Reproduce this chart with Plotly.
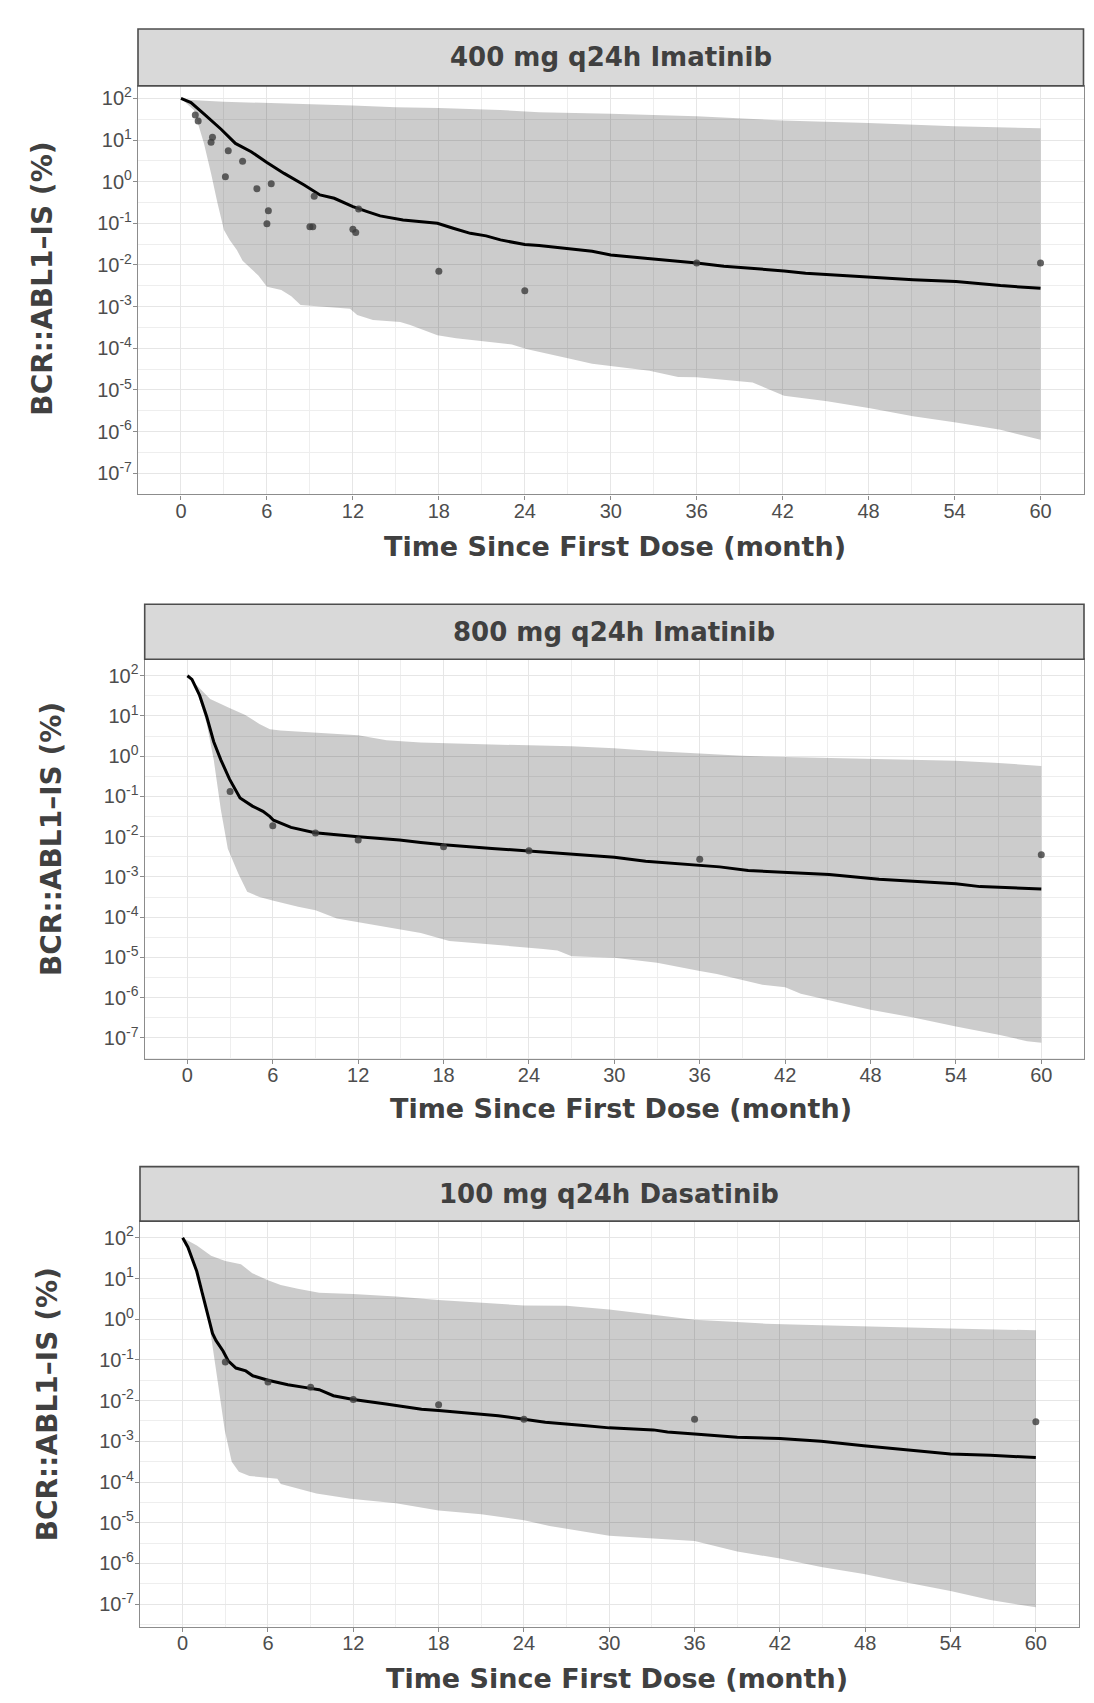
import plotly.graph_objects as go

# The page body has an 8px default margin, so the figure is sized to fit the
# 1094x1703 window inside it and all pixel positions below are screen pixels.
SCREEN_W, SCREEN_H = 1094, 1703
OFF = 8
FIG_W, FIG_H = SCREEN_W - 2 * OFF, SCREEN_H - 2 * OFF

# ---------------- shared axis content ----------------
X_TICKS = [0, 6, 12, 18, 24, 30, 36, 42, 48, 54, 60]
X_TICK_LABELS = ["0", "6", "12", "18", "24", "30", "36", "42", "48", "54", "60"]
Y_TICKS = [1e-7, 1e-6, 1e-5, 1e-4, 1e-3, 1e-2, 1e-1, 1e0, 1e1, 1e2]
Y_TICK_LABELS = ["10<sup>-7</sup>", "10<sup>-6</sup>", "10<sup>-5</sup>", "10<sup>-4</sup>",
                 "10<sup>-3</sup>", "10<sup>-2</sup>", "10<sup>-1</sup>", "10<sup>0</sup>",
                 "10<sup>1</sup>", "10<sup>2</sup>"]
Y_MINOR = [3.16e-8, 3.16e-7, 3.16e-6, 3.16e-5, 3.16e-4, 3.16e-3, 3.16e-2, 3.16e-1, 3.16, 31.6, 316]
X_TITLE = "Time Since First Dose (month)"
Y_TITLE = "BCR::ABL1\u2013IS (%)"

# ---------------- panel 1: 400 mg q24h Imatinib ----------------
p1_title = "400 mg q24h Imatinib"
p1_obs_t = [1.0, 1.2, 2.2, 2.1, 3.3, 4.3, 3.1, 5.3, 6.3, 6.1, 6.0, 9.3, 9.0, 9.2, 12.0, 12.2, 12.4, 18.0, 24.0, 36.0, 60.0]
p1_obs_v = [39.8, 28.8, 11.7, 8.9, 5.5, 3.1, 1.32, 0.68, 0.89, 0.20, 0.098, 0.45, 0.083, 0.083, 0.072, 0.060, 0.22, 0.0071, 0.0024, 0.0112, 0.0112]
p1_med_t = [0, 0.7, 1.6, 2.8, 3.8, 4.9, 6.0, 7.2, 8.6, 9.7, 10.7, 12.0, 13.0, 13.9, 15.5, 17.2, 17.9, 19.0, 20.2, 21.3,
            22.3, 24.0, 25.0, 28.7, 30.0, 32.4, 36.0, 37.9, 39.9, 42.1, 43.6, 46.1, 48.1, 51.1, 54.1, 57.2, 60.0]
p1_med_v = [100, 79.4, 42.7, 18.2, 8.3, 5.25, 2.88, 1.58, 0.83, 0.48, 0.40, 0.251, 0.191, 0.151, 0.120, 0.105, 0.100, 0.076, 0.0575, 0.050,
            0.040, 0.0309, 0.0295, 0.0214, 0.0174, 0.0145, 0.0112, 0.0093, 0.0083, 0.0072, 0.0063, 0.0056, 0.0050, 0.0044, 0.0040, 0.0032, 0.00275]
p1_hi_t = [0, 0.7, 3, 9, 12, 15, 18, 22.3, 25, 30, 36, 42, 48, 54, 60]
p1_hi_v = [100, 91.2, 83.2, 74.1, 67.6, 61.7, 58.9, 52.5, 46.8, 42.7, 37.2, 29.5, 25.7, 21.4, 19.1]
p1_lo_t = [0, 0.9, 1.6, 2.1, 2.55, 3.0, 3.4, 3.9, 4.3, 4.8, 5.4, 6.0, 7.0, 7.7, 8.35, 11.8, 12.3, 13.4, 15.3, 16.0,
           17.9, 19.2, 23.1, 24.1, 25.8, 27, 28.7, 30, 32.7, 34.7, 36, 39.9, 42.1, 45.1, 48.1, 51.1, 54.1, 57.2, 60]
p1_lo_v = [100, 52.5, 8.32, 1.58, 0.302, 0.0692, 0.0398, 0.0229, 0.0126, 0.00891, 0.00562, 0.00302, 0.00251, 0.00178, 0.00110,
           8.91e-4, 6.31e-4, 4.79e-4, 4.27e-4, 3.63e-4, 2.04e-4, 1.74e-4, 1.23e-4, 9.55e-5, 7.08e-5, 5.75e-5, 4.27e-5, 3.72e-5,
           2.88e-5, 2.04e-5, 2.0e-5, 1.51e-5, 7.24e-6, 5.37e-6, 3.63e-6, 2.34e-6, 1.66e-6, 1.10e-6, 6.31e-7]

# ---------------- panel 2: 800 mg q24h Imatinib ----------------
p2_title = "800 mg q24h Imatinib"
p2_obs_t = [3.0, 6.0, 9.0, 12.0, 18.0, 24.0, 36.0, 60.0]
p2_obs_v = [0.132, 0.0186, 0.0123, 0.0083, 0.0056, 0.00447, 0.00275, 0.00355]
p2_med_t = [0, 0.32, 0.86, 1.36, 1.85, 2.35, 2.96, 3.7, 4.57, 5.31, 5.8, 6.05, 7.28, 8.96, 12, 14.9, 16.4, 18, 21.4, 24,
            27.5, 30, 32.2, 36, 37.4, 39.4, 42, 45.1, 48.6, 51.8, 54, 55.7, 60]
p2_med_v = [100, 81.3, 32.4, 9.55, 2.29, 0.813, 0.269, 0.0912, 0.0575, 0.0427, 0.0316, 0.0257, 0.0170, 0.0126, 0.0100, 0.0083,
            0.0072, 0.0063, 0.0051, 0.00437, 0.00347, 0.00309, 0.00245, 0.0020, 0.00178, 0.00145, 0.00132, 0.00115,
            8.71e-4, 7.59e-4, 6.76e-4, 5.75e-4, 5.01e-4]
p2_hi_t = [0, 0.62, 1.6, 2.96, 4.07, 5.06, 5.8, 6.54, 12, 14, 16.4, 21.4, 25, 27, 30, 33, 36, 39, 42, 45, 48, 54, 57, 60]
p2_hi_v = [100, 60.3, 26.3, 15.8, 10.5, 6.31, 4.68, 4.37, 3.31, 2.51, 2.19, 1.95, 1.82, 1.78, 1.58, 1.32, 1.17, 1.02, 0.955,
           0.912, 0.851, 0.776, 0.676, 0.575]
p2_lo_t = [0, 0.62, 1.36, 1.85, 2.35, 2.84, 3.58, 4.2, 5.06, 6.05, 7.78, 9, 10.5, 12, 14.9, 16.4, 18.4, 21.4, 25, 26,
           27, 30, 33, 36, 37.2, 40.4, 42, 43.1, 48, 51, 54, 57, 59, 60]
p2_lo_v = [100, 49.0, 6.31, 0.813, 0.0468, 0.00501, 0.00120, 4.27e-4, 3.16e-4, 2.57e-4, 1.82e-4, 1.48e-4, 9.33e-5, 7.59e-5,
           5.01e-5, 4.07e-5, 2.57e-5, 2.09e-5, 1.62e-5, 1.48e-5, 1.07e-5, 9.77e-6, 7.41e-6, 4.57e-6, 3.89e-6, 2.09e-6,
           1.82e-6, 1.26e-6, 5.01e-7, 3.24e-7, 1.91e-7, 1.20e-7, 8.32e-8, 7.59e-8]

# ---------------- panel 3: 100 mg q24h Dasatinib ----------------
p3_title = "100 mg q24h Dasatinib"
p3_obs_t = [3.0, 6.0, 9.0, 12.0, 18.0, 24.0, 36.0, 60.0]
p3_obs_v = [0.0891, 0.0288, 0.0214, 0.0107, 0.0079, 0.00347, 0.00347, 0.00302]
p3_med_t = [0, 0.37, 0.99, 1.6, 2.1, 2.34, 2.84, 3.2, 3.75, 4.44, 4.93, 6, 7.4, 9, 9.6, 10.6, 12, 14.3, 16.8, 18,
            20.5, 22.2, 24, 25.5, 28.2, 30, 33.1, 34.1, 36, 39, 42, 44.9, 47.9, 50.9, 54, 56.8, 60]
p3_med_v = [100, 58.9, 15.1, 2.14, 0.447, 0.302, 0.166, 0.0955, 0.0631, 0.0537, 0.0407, 0.0316, 0.0245, 0.0200, 0.0186,
            0.0132, 0.0107, 0.0083, 0.00617, 0.00575, 0.0049, 0.00427, 0.00347, 0.00295, 0.00245, 0.00214, 0.00191,
            0.0017, 0.00151, 0.00126, 0.00117, 0.0010, 7.76e-4, 6.31e-4, 4.90e-4, 4.57e-4, 3.98e-4]
p3_hi_t = [0, 1, 2, 3, 4.1, 4.9, 6, 6.9, 8.1, 9.6, 12, 15, 18, 21, 24, 27, 30, 33.1, 36, 39, 41, 44.9, 47.9, 54, 60]
p3_hi_v = [100, 64.6, 36.3, 26.9, 22.4, 13.5, 9.12, 6.92, 5.62, 4.47, 4.17, 3.63, 2.95, 2.57, 2.19, 2.14, 1.74, 1.29,
           0.977, 0.851, 0.776, 0.708, 0.661, 0.589, 0.537]
p3_lo_t = [0, 0.62, 1.48, 1.97, 2.47, 2.96, 3.45, 3.95, 4.7, 6.66, 6.9, 9.4, 11.8, 15, 18, 21, 24, 25.8, 27, 30,
           33.1, 36, 39, 42, 44.9, 47.9, 50.9, 54, 56.8, 60]
p3_lo_v = [100, 39.8, 4.68, 0.447, 0.0288, 0.00186, 3.16e-4, 1.78e-4, 1.41e-4, 1.20e-4, 8.91e-5, 5.25e-5, 3.89e-5,
           3.02e-5, 2.0e-5, 1.62e-5, 1.15e-5, 8.32e-6, 7.08e-6, 4.79e-6, 4.07e-6, 3.55e-6, 1.95e-6, 1.32e-6, 8.13e-7,
           5.50e-7, 3.39e-7, 2.09e-7, 1.26e-7, 8.32e-8]

# ---------------- layout geometry (screen pixels) ----------------
panels = [
    dict(title=p1_title, obs=(p1_obs_t, p1_obs_v), med=(p1_med_t, p1_med_v), hi=(p1_hi_t, p1_hi_v), lo=(p1_lo_t, p1_lo_v),
         x0=138, x1=1083.5, strip_top=27, top=84, bottom=493, yr=[-7.51, 2.30], xt=(615, 545), yt=(43, 277)),
    dict(title=p2_title, obs=(p2_obs_t, p2_obs_v), med=(p2_med_t, p2_med_v), hi=(p2_hi_t, p2_hi_v), lo=(p2_lo_t, p2_lo_v),
         x0=144.7, x1=1084, strip_top=603, top=658, bottom=1058.5, yr=[-7.53, 2.41], xt=(621, 1108), yt=(51, 838)),
    dict(title=p3_title, obs=(p3_obs_t, p3_obs_v), med=(p3_med_t, p3_med_v), hi=(p3_hi_t, p3_hi_v), lo=(p3_lo_t, p3_lo_v),
         x0=140, x1=1078.5, strip_top=1166, top=1220.6, bottom=1626.8, yr=[-7.56, 2.41], xt=(617, 1678), yt=(47, 1404)),
]

def fx(px):
    return (px - OFF) / FIG_W

def fy(py):
    return 1 - (py - OFF) / FIG_H

TICK_FONT = dict(family="Liberation Sans, Arial, sans-serif", size=20, color="#4d4d4d")
STRIP_FONT = dict(family="DejaVu Sans, sans-serif", size=26, color="#404040", weight="bold")
XT_FONT = dict(family="DejaVu Sans, sans-serif", size=27, color="#404040", weight="bold")
YT_FONT = dict(family="DejaVu Sans, sans-serif", size=28, color="#404040", weight="bold")
AXIS_COLOR = "#8c8c8c"
GRID_MAJOR = "#e6e6e6"
GRID_MINOR = "#eeeeee"

fig = go.Figure()
layout = dict(width=FIG_W, height=FIG_H, margin=dict(l=0, r=0, t=0, b=0), paper_bgcolor="white",
              plot_bgcolor="white", showlegend=False, shapes=[], annotations=[])

for i, p in enumerate(panels, start=1):
    xa = "x" if i == 1 else f"x{i}"
    ya = "y" if i == 1 else f"y{i}"
    hi_t, hi_v = p["hi"]
    lo_t, lo_v = p["lo"]
    # ribbon (prediction interval)
    fig.add_trace(go.Scatter(x=list(hi_t) + list(lo_t)[::-1], y=list(hi_v) + list(lo_v)[::-1],
                             fill="toself", fillcolor="rgba(0,0,0,0.2)", line=dict(width=0),
                             mode="lines", hoverinfo="skip", xaxis=xa, yaxis=ya))
    # median line
    fig.add_trace(go.Scatter(x=p["med"][0], y=p["med"][1], mode="lines",
                             line=dict(color="black", width=3), xaxis=xa, yaxis=ya))
    # observed points
    fig.add_trace(go.Scatter(x=p["obs"][0], y=p["obs"][1], mode="markers",
                             marker=dict(color="rgba(60,60,60,0.8)", size=7), xaxis=xa, yaxis=ya))

    layout[f"xaxis{'' if i == 1 else i}"] = dict(
        domain=[fx(p["x0"]), fx(p["x1"])], range=[-3, 63], anchor=ya,
        tickmode="array", tickvals=X_TICKS, ticktext=X_TICK_LABELS, tickfont=TICK_FONT,
        ticks="outside", ticklen=4, tickwidth=1.3, tickcolor=AXIS_COLOR, ticklabelstandoff=-6,
        showline=True, mirror=True, linecolor=AXIS_COLOR, linewidth=1.3,
        showgrid=True, gridcolor=GRID_MAJOR, gridwidth=1.4, zeroline=False,
        minor=dict(dtick=3, tick0=0, showgrid=True, gridcolor=GRID_MINOR, gridwidth=1.0),
    )
    layout[f"yaxis{'' if i == 1 else i}"] = dict(
        type="log", domain=[fy(p["bottom"]), fy(p["top"])], range=p["yr"], anchor=xa,
        tickmode="array", tickvals=Y_TICKS, ticktext=Y_TICK_LABELS, tickfont=TICK_FONT,
        ticks="outside", ticklen=4, tickwidth=1.3, tickcolor=AXIS_COLOR, ticklabelstandoff=-3,
        showline=True, mirror=True, linecolor=AXIS_COLOR, linewidth=1.3,
        showgrid=True, gridcolor=GRID_MAJOR, gridwidth=1.4, zeroline=False,
        minor=dict(tickmode="array", tickvals=Y_MINOR, showgrid=True, gridcolor=GRID_MINOR, gridwidth=1.0),
    )
    # facet strip
    layout["shapes"].append(dict(type="rect", xref="paper", yref="paper",
                                 x0=fx(p["x0"]), x1=fx(p["x1"]), y0=fy(p["top"]), y1=fy(p["strip_top"]),
                                 fillcolor="#d9d9d9", line=dict(color="#4d4d4d", width=1.6)))
    layout["annotations"].append(dict(text=p["title"], xref="paper", yref="paper",
                                      x=fx((p["x0"] + p["x1"]) / 2), y=fy((p["top"] + p["strip_top"]) / 2),
                                      xanchor="center", yanchor="middle", showarrow=False, font=STRIP_FONT))
    # axis titles
    layout["annotations"].append(dict(text=X_TITLE, xref="paper", yref="paper",
                                      x=fx(p["xt"][0]), y=fy(p["xt"][1]), xanchor="center", yanchor="middle",
                                      showarrow=False, font=XT_FONT))
    layout["annotations"].append(dict(text=Y_TITLE, xref="paper", yref="paper", textangle=-90,
                                      x=fx(p["yt"][0]), y=fy(p["yt"][1]), xanchor="center", yanchor="middle",
                                      showarrow=False, font=YT_FONT))

fig.update_layout(**layout)
fig.write_html("out.html")
